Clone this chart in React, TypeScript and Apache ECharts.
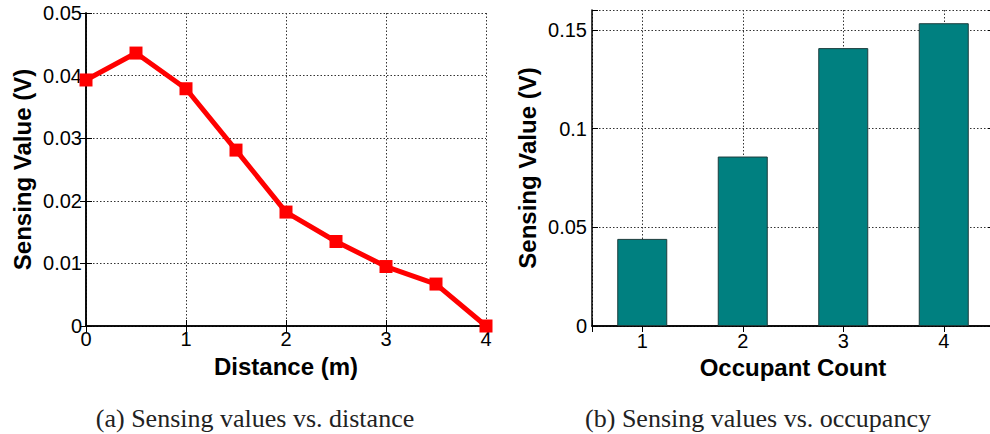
import React, { useEffect, useRef } from "react";
import * as echarts from "echarts";

const distances = [0, 0.5, 1, 1.5, 2, 2.5, 3, 3.5, 4];
const distanceValues = [0.0393, 0.0436, 0.0379, 0.0281, 0.0182, 0.0135, 0.0095, 0.0067, 0.0];
const occupantCounts = [1, 2, 3, 4];
const occupancyValues = [0.0441, 0.0858, 0.1407, 0.1533];
const captionA = "(a) Sensing values vs. distance";
const captionB = "(b) Sensing values vs. occupancy";

const SANS = '"Liberation Sans", Arial, sans-serif';
const SERIF = '"Liberation Serif", "Times New Roman", serif';

export default function App() {
  const ref = useRef<HTMLDivElement>(null);
  useEffect(() => {
    if (!ref.current) return;
    const chart = echarts.init(ref.current, undefined, { renderer: "svg" });
    const axisLine = { show: true, lineStyle: { color: "#000", width: 1.5 } };
    const tick = { show: true, inside: true, length: 6, lineStyle: { color: "#000", width: 1 } };
    const label = { color: "#000", fontSize: 20, fontFamily: SANS };
    const split = { show: true, lineStyle: { color: "#333", width: 1, type: [1.5, 2] as any } };
    const nameStyle = { color: "#000", fontSize: 24, fontWeight: "bold" as const, fontFamily: SANS };
    const isMultiple = (v: number, step: number) => Math.abs(v / step - Math.round(v / step)) < 1e-6;

    chart.setOption({
      animation: false,
      backgroundColor: "#fff",
      grid: [
        { left: 86, top: 13, width: 400, height: 313 },
        { left: 592, top: 10, width: 402, height: 316 },
      ],
      xAxis: [
        {
          gridIndex: 0, type: "value", min: 0, max: 4, interval: 1, position: "bottom",
          axisLine, axisTick: tick, axisLabel: { ...label, margin: 3 }, splitLine: split,
          name: "Distance (m)", nameLocation: "middle", nameGap: 28, nameTextStyle: nameStyle,
        },
        {
          gridIndex: 0, type: "value", min: 0, max: 4, interval: 1, position: "top",
          axisLine, axisTick: tick, axisLabel: { show: false }, splitLine: { show: false },
        },
        {
          gridIndex: 1, type: "value", min: 0.5, max: 4.5, splitNumber: 4, position: "bottom",
          axisLine, axisTick: tick,
          axisLabel: { ...label, margin: 5, formatter: (v: number) => (isMultiple(v, 1) ? String(v) : "") },
          splitLine: split,
          name: "Occupant Count", nameLocation: "middle", nameGap: 29, nameTextStyle: nameStyle,
        },
        {
          gridIndex: 1, type: "value", min: 0.5, max: 4.5, splitNumber: 4, position: "top",
          axisLine, axisTick: tick, axisLabel: { show: false }, splitLine: { show: false },
        },
      ],
      yAxis: [
        {
          gridIndex: 0, type: "value", min: 0, max: 0.05, interval: 0.01, position: "left",
          axisLine, axisTick: tick, axisLabel: { ...label, margin: 4 }, splitLine: split,
          name: "Sensing Value (V)", nameLocation: "middle", nameGap: 52, nameTextStyle: nameStyle,
        },
        {
          gridIndex: 0, type: "value", min: 0, max: 0.05, interval: 0.01, position: "right",
          axisLine, axisTick: tick, axisLabel: { show: false }, splitLine: { show: false },
        },
        {
          gridIndex: 1, type: "value", min: 0, max: 0.16, interval: 0.05, position: "left",
          axisLine, axisTick: tick,
          axisLabel: { ...label, margin: 5, formatter: (v: number) => (isMultiple(v, 0.05) ? String(+v.toFixed(4)) : "") },
          splitLine: split,
          name: "Sensing Value (V)", nameLocation: "middle", nameGap: 53, nameTextStyle: nameStyle,
        },
        {
          gridIndex: 1, type: "value", min: 0, max: 0.16, interval: 0.05, position: "right",
          axisLine, axisTick: tick, axisLabel: { show: false }, splitLine: { show: false },
        },
      ],
      series: [
        {
          type: "line",
          xAxisIndex: 0,
          yAxisIndex: 0,
          data: distances.map((d, i) => [d, distanceValues[i]]),
          symbol: "rect",
          symbolSize: 13,
          clip: false,
          lineStyle: { color: "#ff0000", width: 5 },
          itemStyle: { color: "#ff0000" },
          z: 5,
        },
        {
          type: "bar",
          xAxisIndex: 2,
          yAxisIndex: 2,
          data: occupantCounts.map((c, i) => [c, occupancyValues[i]]),
          barWidth: 50,
          itemStyle: { color: "#008080", borderColor: "#1c3c3c", borderWidth: 1 },
          z: 5,
        },
      ],
      graphic: [
        {
          type: "text", x: 255, y: 418,
          style: { text: captionA, font: `26px ${SERIF}`, fill: "#222", textAlign: "center", textVerticalAlign: "middle" },
        },
        {
          type: "text", x: 758, y: 418,
          style: { text: captionB, font: `26px ${SERIF}`, fill: "#222", textAlign: "center", textVerticalAlign: "middle" },
        },
      ],
    });
    return () => chart.dispose();
  }, []);
  return (
    <div style={{ position: "absolute", left: 0, top: 0, width: 990, height: 434, overflow: "hidden", background: "#fff" }}>
      <div ref={ref} style={{ width: 1000, height: 434 }} />
    </div>
  );
}
